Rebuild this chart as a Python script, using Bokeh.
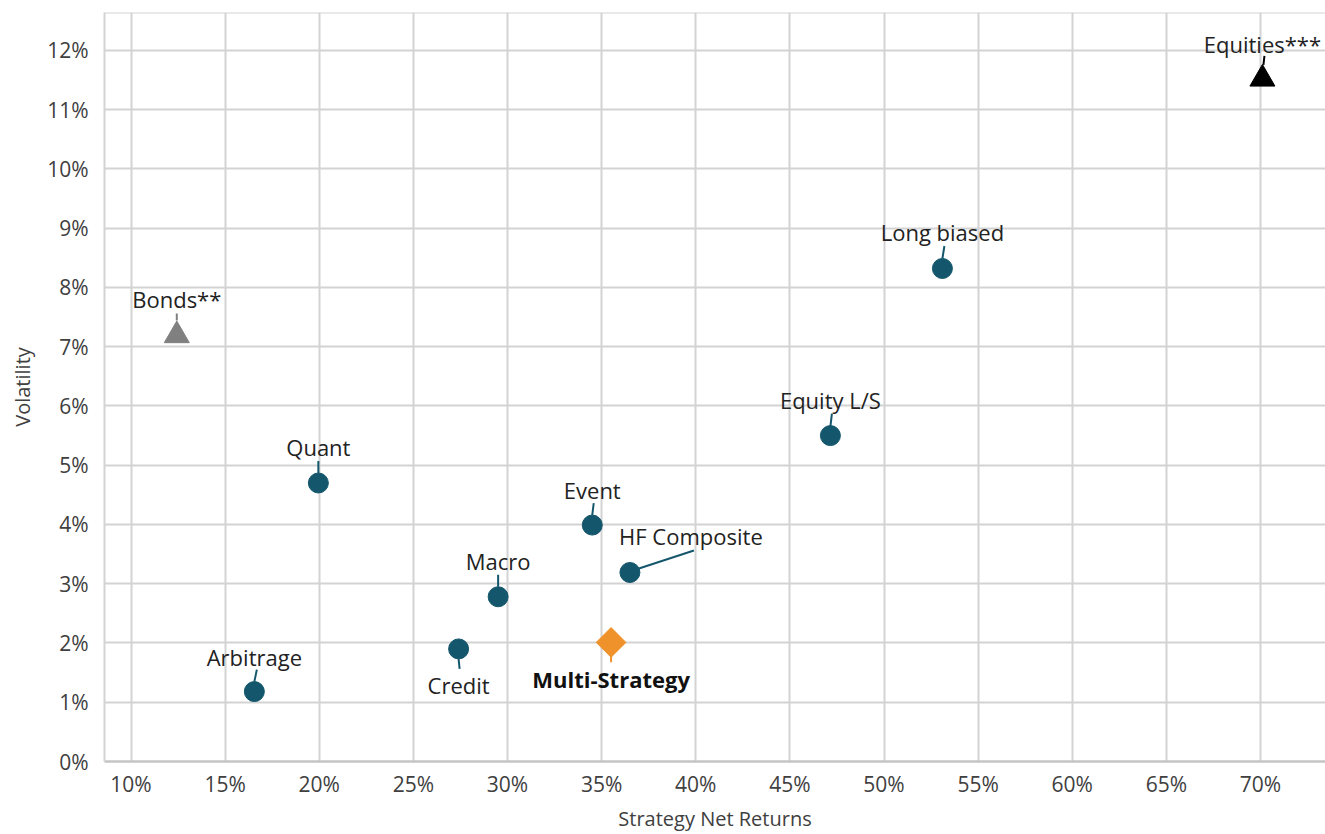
from bokeh.plotting import figure
from bokeh.models import ColumnDataSource, FixedTicker, PrintfTickFormatter, Span, Range1d
from bokeh.core.properties import value
from bokeh.embed import file_html
from bokeh.resources import INLINE

# ---------------- data ----------------
strategies = ["Arbitrage", "Quant", "Credit", "Macro", "Event",
              "HF Composite", "Equity L/S", "Long biased"]
strategy_returns = [16.55, 19.95, 27.4, 29.5, 34.5, 36.5, 47.15, 53.1]
strategy_vol = [1.18, 4.70, 1.90, 2.78, 3.99, 3.19, 5.50, 8.32]

multi_label = ["Multi-Strategy"]
multi_returns = [35.5]
multi_vol = [2.01]

bonds_label = ["Bonds**"]
bonds_returns = [12.43]
bonds_vol = [7.19]

equities_label = ["Equities***"]
equities_returns = [70.1]
equities_vol = [11.52]

x_ticks = [10, 15, 20, 25, 30, 35, 40, 45, 50, 55, 60, 65, 70]
y_ticks = [0, 1, 2, 3, 4, 5, 6, 7, 8, 9, 10, 11, 12]
x_title = "Strategy Net Returns"
y_title = "Volatility"

# ---------------- layout / style ----------------
X0, X1 = 8.59, 73.45
Y0, Y1 = 0.0, 12.64
W, H = 1325, 834
BL, BR, BT, BB = 104, 0, 12, 72
px_x = (W - BL - BR) / (X1 - X0)
px_y = (H - BT - BB) / (Y1 - Y0)

TEAL = "#14566c"
ORANGE = "#f0922b"
GREY = "#808080"
BLACK = "#000000"
FONT = "Open Sans"

# label offsets in screen pixels (dx, baseline dy), leader start/end offsets
strat_text_off = [(0, -35), (0, -36), (0, 36), (0, -36), (0, -35), (61, -36), (0, -36), (0, -36)]
strat_lead = [((0, -10), (2.5, -22)), ((0, -10), (0, -22)), ((0, 10), (1, 20)),
              ((0, -10), (0, -22)), ((0, -10), (1.5, -22)), ((9, -4), (64, -22)),
              ((0, -9), (1.5, -22)), ((0, -10), (2, -22.5))]
multi_text_off = [(0, 37)]
multi_lead = [((0, 13), (0, 20))]
bonds_text_off = [(0, -36)]
bonds_lead = [((0, -15), (0, -22))]
eq_text_off = [(0, -35)]
eq_lead = [((1, -14), (2, -23))]

p = figure(width=W, height=H, output_backend="svg", toolbar_location=None,
           x_range=Range1d(X0, X1), y_range=Range1d(Y0, Y1),
           min_border_left=BL, min_border_right=BR, min_border_top=BT, min_border_bottom=BB)
p.outline_line_color = None
p.background_fill_color = "white"
p.border_fill_color = "white"

for ax, ticks in ((p.xaxis, x_ticks), (p.yaxis, y_ticks)):
    ax.ticker = FixedTicker(ticks=ticks)
    ax.formatter = PrintfTickFormatter(format="%d%%")
    ax.major_tick_line_color = None
    ax.minor_tick_line_color = None
    ax.major_label_text_font = FONT
    ax.major_label_text_font_size = "21px"
    ax.major_label_text_color = "#404040"
    ax.axis_label_text_font = FONT
    ax.axis_label_text_font_size = "20px"
    ax.axis_label_text_font_style = "normal"
    ax.axis_label_text_color = "#404040"

p.xaxis.axis_label = x_title
p.yaxis.axis_label = y_title
p.xaxis.major_label_standoff = 2
p.xaxis.axis_label_standoff = 4
p.yaxis.major_label_standoff = 10
p.yaxis.axis_label_standoff = 8
p.xaxis.axis_line_color = "#c4c4c4"
p.xaxis.axis_line_width = 2.5
p.yaxis.axis_line_color = "#d3d3d3"
p.yaxis.axis_line_width = 2

p.xgrid.ticker = FixedTicker(ticks=x_ticks)
p.ygrid.ticker = FixedTicker(ticks=y_ticks)
p.grid.grid_line_color = "#d3d3d3"
p.grid.grid_line_width = 2
p.add_layout(Span(location=Y1, dimension="width", line_color="#d3d3d3", line_width=2))


def leaders(xs, ys, leads, color):
    x0 = [x + a[0] / px_x for x, (a, b) in zip(xs, leads)]
    y0 = [y - a[1] / px_y for y, (a, b) in zip(ys, leads)]
    x1 = [x + b[0] / px_x for x, (a, b) in zip(xs, leads)]
    y1 = [y - b[1] / px_y for y, (a, b) in zip(ys, leads)]
    p.segment(x0=x0, y0=y0, x1=x1, y1=y1, line_color=color, line_width=2)


def labels(xs, ys, texts, offs, bold=False, color="#222222"):
    src = ColumnDataSource(dict(x=xs, y=ys, t=texts,
                                dx=[o[0] for o in offs], dy=[o[1] for o in offs]))
    p.text(x="x", y="y", text="t", x_offset="dx", y_offset="dy", source=src,
           text_font=value(FONT), text_font_size="22px",
           text_font_style="bold" if bold else "normal",
           text_color=color, text_align="center", text_baseline="alphabetic")


leaders(strategy_returns, strategy_vol, strat_lead, TEAL)
leaders(multi_returns, multi_vol, multi_lead, ORANGE)
leaders(bonds_returns, bonds_vol, bonds_lead, GREY)
leaders(equities_returns, equities_vol, eq_lead, BLACK)

p.scatter(strategy_returns, strategy_vol, marker="circle", size=20,
          fill_color=TEAL, line_color=TEAL)
p.scatter(multi_returns, multi_vol, marker="square", size=21, angle=0.7854,
          fill_color=ORANGE, line_color=ORANGE)
p.scatter(bonds_returns, bonds_vol, marker="triangle", size=25,
          fill_color=GREY, line_color=GREY)
p.scatter(equities_returns, equities_vol, marker="triangle", size=25,
          fill_color=BLACK, line_color=BLACK)

labels(strategy_returns, strategy_vol, strategies, strat_text_off)
labels(multi_returns, multi_vol, multi_label, multi_text_off, bold=True, color="#111111")
labels(bonds_returns, bonds_vol, bonds_label, bonds_text_off)
labels(equities_returns, equities_vol, equities_label, eq_text_off)

open("out.html", "w").write(file_html(p, INLINE))
